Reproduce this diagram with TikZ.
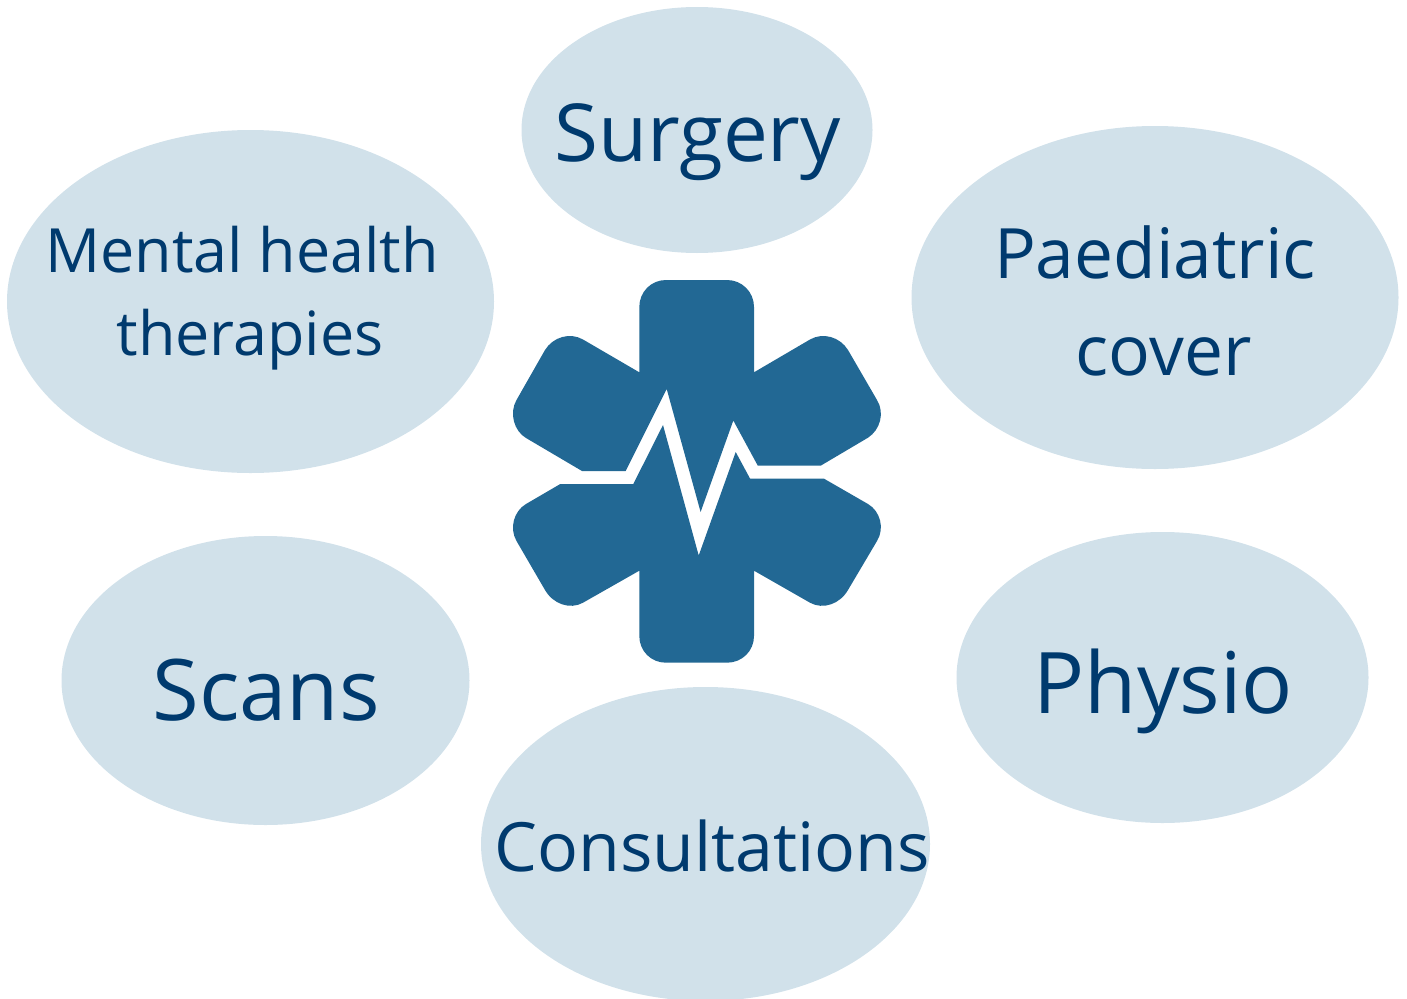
\documentclass[tikz,border=0pt]{standalone}
\usepackage{fontspec}
\setmainfont{Open Sans}
\usetikzlibrary{shapes.geometric}
\definecolor{bubble}{HTML}{D1E1EA}
\definecolor{star}{HTML}{226894}
\definecolor{ink}{HTML}{003A6E}
\tikzset{
  bubblenode/.style={ellipse,fill=bubble,inner sep=0pt,outer sep=0pt},
  lbl/.style={text=ink,inner sep=0pt,align=center,anchor=base},
}
\newcommand{\fs}[1]{\fontsize{#1}{#1}\selectfont}
\begin{document}
\begin{tikzpicture}[x=1pt,y=-1pt]
\path[use as bounding box] (0,0) rectangle (1407,998);
\clip (0,0) rectangle (1407,998);
\node[bubblenode,minimum width=351pt,minimum height=246pt] (surgery) at (697,130) {};
\node[bubblenode,minimum width=487pt,minimum height=343pt] (mental) at (250.5,301.5) {};
\node[bubblenode,minimum width=487pt,minimum height=343pt] (paed) at (1155,297.5) {};
\node[bubblenode,minimum width=408pt,minimum height=289pt] (scans) at (265.5,680.5) {};
\node[bubblenode,minimum width=412pt,minimum height=291pt] (physio) at (1162.5,677.5) {};
\node[bubblenode,minimum width=449pt,minimum height=314pt] (consult) at (705.5,844) {};
\node[lbl] (t1) at (697.5,161) {\fs{80}Surgery};
\node[lbl] (t2a) at (242,272) {\fs{61}Mental health};
\node[lbl] (t2b) at (250,355.5) {\fs{61}therapies};
\node[lbl] (t3a) at (1155,278.5) {\fs{69.5}Paediatric};
\node[lbl] (t3b) at (1163.5,375.5) {\fs{69.5}cover};
\node[lbl] (t4) at (266,720) {\fs{85}Scans};
\node[lbl] (t5) at (1163.5,713) {\fs{85}Physio};
\node[lbl] (t6) at (712,871) {\fs{68}Consultations};
\fill[star] (639.3,372.3) -- (639.3,307) .. controls (639.3,292) and (651,280) .. (666,280)
  -- (727,280) .. controls (742,280) and (754,292) .. (754,307) -- (754,372.3)
  -- (810,339.5) .. controls (823,332) and (840,337) .. (848,350)
  -- (877,400) .. controls (885,413) and (880,430) .. (868,437.7)
  -- (821,465.5) -- (757.7,465.5) -- (733.3,420.5) -- (700.6,512) -- (666.7,389)
  -- (625.7,471) -- (582,471) -- (526,438) .. controls (514,431) and (509,413) .. (516.5,400)
  -- (545,350) .. controls (553,337) and (570,332) .. (583,339.5) -- cycle;
\fill[star] (560.3,484) -- (633.3,484) -- (663,425) -- (698.7,555.5) -- (735.7,452)
  -- (750,478.5) -- (823.7,478.5) -- (868,504) .. controls (880,511) and (885,528) .. (877,541)
  -- (848,590) .. controls (840,604) and (823,610) .. (810,602.7) -- (754,570.7)
  -- (754,636) .. controls (754,651) and (742,662.7) .. (727,662.7)
  -- (666,662.7) .. controls (651,662.7) and (639.3,651) .. (639.3,636) -- (639.3,570.7)
  -- (583,602.7) .. controls (570,610) and (553,604) .. (545,590)
  -- (516.5,541) .. controls (509,528) and (514,511) .. (526,504) -- cycle;
\end{tikzpicture}
\end{document}
